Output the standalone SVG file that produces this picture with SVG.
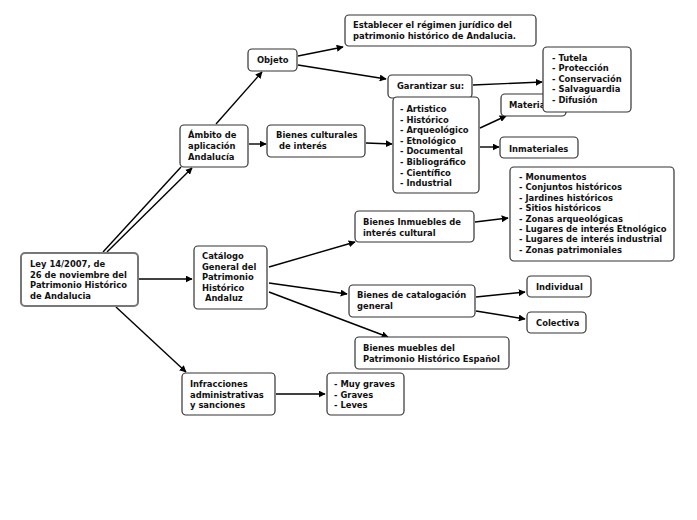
<svg xmlns="http://www.w3.org/2000/svg" width="697" height="520" viewBox="0 0 697 520">
<defs>
<marker id="ah" viewBox="0 0 10 10" refX="9" refY="5" markerWidth="7" markerHeight="7" markerUnits="userSpaceOnUse" orient="auto"><path d="M0,0 L10,5 L0,10 z" fill="#000"/></marker>
<style>
.n rect{fill:#fff;stroke:#333;stroke-width:1.2}
.r rect{fill:#fff;stroke:#777;stroke-width:2}
text{font-family:"DejaVu Sans",Verdana,sans-serif;font-weight:bold;font-size:8.4px;fill:#111}
.c line{stroke:#000;stroke-width:1.4}
.c .a{marker-end:url(#ah)}
</style>
</defs>
<rect width="697" height="520" fill="#fff"/>
<g class="c">
<line x1="103" y1="252" x2="181" y2="167"/>
<line class="a" x1="107" y1="252" x2="192" y2="168"/>
<line class="a" x1="139" y1="279" x2="192" y2="279"/>
<line class="a" x1="116" y1="307" x2="186" y2="372"/>
<line class="a" x1="216" y1="124" x2="262" y2="72"/>
<line class="a" x1="249" y1="144" x2="266" y2="144"/>
<line class="a" x1="366" y1="143" x2="392" y2="144"/>
<line class="a" x1="298" y1="56" x2="343" y2="47"/>
<line class="a" x1="298" y1="65" x2="386" y2="79"/>
<line class="a" x1="473" y1="85" x2="542" y2="82"/>
<line class="a" x1="480" y1="128" x2="506" y2="116"/>
<line class="a" x1="480" y1="147" x2="499" y2="147"/>
<line class="a" x1="475" y1="222" x2="508" y2="218"/>
<line class="a" x1="269" y1="267" x2="355" y2="242"/>
<line class="a" x1="269" y1="283" x2="347" y2="294"/>
<line class="a" x1="269" y1="292" x2="388" y2="337"/>
<line class="a" x1="476" y1="297" x2="525" y2="292"/>
<line class="a" x1="476" y1="311" x2="525" y2="319"/>
<line class="a" x1="276" y1="394" x2="325" y2="394"/>
</g>
<g id="ley" class="r"><rect x="21" y="253" width="117" height="53" rx="4"/>
<text x="30" y="267">Ley 14/2007, de</text><text x="30" y="277.5">26 de noviembre del</text><text x="30" y="288">Patrimonio Histórico</text><text x="30" y="298.5">de Andalucia</text></g>
<g id="ambito" class="n"><rect x="180" y="125" width="68" height="42" rx="4"/>
<text x="188" y="138">Ámbito de</text><text x="188" y="149">aplicación</text><text x="188" y="160">Andalucía</text></g>
<g id="objeto" class="n"><rect x="248" y="49" width="49" height="22" rx="4"/>
<text x="257" y="63">Objeto</text></g>
<g id="establecer" class="n"><rect x="345" y="15" width="191" height="31" rx="4"/>
<text x="353" y="28">Establecer el régimen jurídico del</text><text x="353" y="39">patrimonio histórico de Andalucia.</text></g>
<g id="garantizar" class="n"><rect x="388" y="75" width="84" height="23" rx="4"/>
<text x="397" y="89">Garantizar su:</text></g>
<g id="bic" class="n"><rect x="267" y="125" width="98" height="32" rx="4"/>
<text x="276" y="138">Bienes culturales</text><text x="276" y="149" xml:space="preserve"> de interés</text></g>
<g id="tipos" class="n"><rect x="393" y="97" width="86" height="96" rx="4"/>
<text x="400" y="112">- Artistico</text><text x="400" y="122.6">- Histórico</text><text x="400" y="133.2">- Arqueológico</text><text x="400" y="143.8">- Etnológico</text><text x="400" y="154.4">- Documental</text><text x="400" y="165">- Bibliográfico</text><text x="400" y="175.6">- Científico</text><text x="400" y="186.2">- Industrial</text></g>
<g id="materiales" class="n"><rect x="501" y="94" width="65" height="22" rx="4"/>
<text x="509" y="108">Materiales</text></g>
<g id="tutela" class="n"><rect x="543" y="47" width="88" height="65" rx="4"/>
<text x="552" y="61">- Tutela</text><text x="552" y="71.4">- Protección</text><text x="552" y="81.8">- Conservación</text><text x="552" y="92.2">- Salvaguardia</text><text x="552" y="102.6">- Difusión</text></g>
<g id="inmateriales" class="n"><rect x="500" y="137" width="78" height="21" rx="4"/>
<text x="509" y="151.5">Inmateriales</text></g>
<g id="inmuebles" class="n"><rect x="355" y="211" width="119" height="31" rx="4"/>
<text x="363" y="225">Bienes Inmuebles de</text><text x="363" y="236">interés cultural</text></g>
<g id="monumentos" class="n"><rect x="510" y="167" width="164" height="94" rx="4"/>
<text x="519" y="180">- Monumentos</text><text x="519" y="190.4">- Conjuntos históricos</text><text x="519" y="200.8">- Jardines históricos</text><text x="519" y="211.2">- Sitios históricos</text><text x="519" y="221.6">- Zonas arqueológicas</text><text x="519" y="232">- Lugares de interés Etnológico</text><text x="519" y="242.4">- Lugares de interés industrial</text><text x="519" y="252.8">- Zonas patrimoniales</text></g>
<g id="catalogo" class="n"><rect x="194" y="246" width="73" height="63" rx="4"/>
<text x="202" y="259">Catálogo</text><text x="202" y="269.5">General del</text><text x="202" y="280">Patrimonio</text><text x="202" y="290.5">Histórico</text><text x="202" y="301" xml:space="preserve"> Andaluz</text></g>
<g id="catalogacion" class="n"><rect x="349" y="285" width="126" height="32" rx="4"/>
<text x="357" y="298">Bienes de catalogación</text><text x="357" y="309">general</text></g>
<g id="muebles" class="n"><rect x="355" y="337" width="154" height="32" rx="4"/>
<text x="363" y="351">Bienes muebles del</text><text x="363" y="362">Patrimonio Histórico Español</text></g>
<g id="individual" class="n"><rect x="527" y="276" width="64" height="21" rx="4"/>
<text x="536" y="290">Individual</text></g>
<g id="colectiva" class="n"><rect x="527" y="312" width="59" height="21" rx="4"/>
<text x="536" y="326">Colectiva</text></g>
<g id="infracciones" class="n"><rect x="182" y="373" width="93" height="42" rx="4"/>
<text x="190" y="387">Infracciones</text><text x="190" y="397.5">administrativas</text><text x="190" y="408">y sanciones</text></g>
<g id="graves" class="n"><rect x="327" y="373" width="77" height="42" rx="4"/>
<text x="334" y="387">- Muy graves</text><text x="334" y="397.5">- Graves</text><text x="334" y="408">- Leves</text></g>
</svg>
